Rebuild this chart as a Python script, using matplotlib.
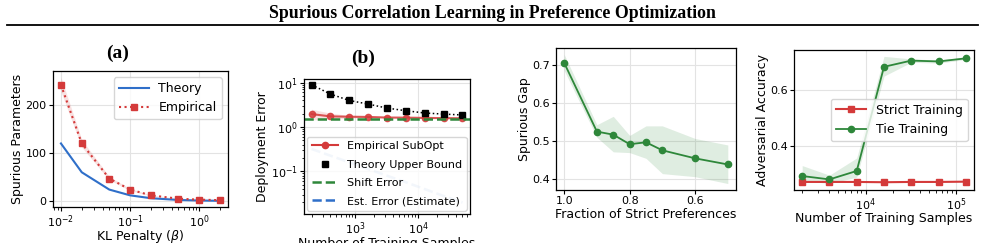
import numpy as np
import matplotlib
matplotlib.use("Agg")
import matplotlib.pyplot as plt

# panel (a): spurious parameters vs KL penalty
beta = [0.01, 0.02, 0.05, 0.1, 0.2, 0.5, 1.0, 2.0]
theory_a = [120, 60, 24, 12, 6, 2.4, 1.2, 0.6]
emp_a = [242, 120, 47, 24, 12, 5, 3, 2]
emp_a_lo = [228, 112, 44, 22, 11, 4.5, 2.7, 1.8]
emp_a_hi = [258, 128, 51, 26, 13, 5.5, 3.3, 2.2]

# panel (b): deployment error vs training samples
n_b = [200, 400, 800, 1600, 3200, 6400, 12800, 25600, 51200]
subopt_b = [1.95, 1.73, 1.70, 1.68, 1.63, 1.62, 1.60, 1.58, 1.57]
subopt_b_lo = [1.45, 1.48, 1.58, 1.62, 1.59, 1.59, 1.57, 1.55, 1.55]
subopt_b_hi = [2.50, 2.05, 1.82, 1.74, 1.67, 1.65, 1.63, 1.61, 1.59]
bound_b = [8.9, 5.5, 3.95, 3.27, 2.66, 2.32, 2.06, 1.95, 1.86]
shift_err = 1.55
est_err_b = [0.32, 0.226, 0.16, 0.113, 0.08, 0.057, 0.04, 0.028, 0.02]

# panel (c): spurious gap vs fraction of strict preferences
frac_c = [1.0, 0.9, 0.85, 0.8, 0.75, 0.7, 0.6, 0.5]
gap_c = [0.705, 0.525, 0.517, 0.492, 0.497, 0.476, 0.455, 0.439]
gap_c_lo = [0.685, 0.510, 0.472, 0.470, 0.455, 0.415, 0.407, 0.389]
gap_c_hi = [0.727, 0.543, 0.565, 0.515, 0.540, 0.540, 0.507, 0.490]

# panel (d): adversarial accuracy vs training samples
n_d = [2000, 4000, 8000, 16000, 32000, 64000, 128000]
strict_d = [0.273, 0.273, 0.273, 0.272, 0.273, 0.273, 0.274]
tie_d = [0.294, 0.282, 0.312, 0.681, 0.703, 0.700, 0.711]
tie_d_lo = [0.279, 0.267, 0.290, 0.648, 0.697, 0.694, 0.707]
tie_d_hi = [0.331, 0.297, 0.358, 0.718, 0.709, 0.705, 0.715]

BLUE = "#2f6fc9"
RED = "#d43a3a"
GREEN = "#2e873a"
GRID = "#e3e3e3"

plt.rcParams["font.family"] = "DejaVu Sans"
plt.rcParams["font.size"] = 9
plt.rcParams["mathtext.fontset"] = "dejavusans"
plt.rcParams["axes.labelpad"] = 1.0

W, H = 985, 243
fig = plt.figure(figsize=(W / 100, H / 100), dpi=100)


def px_axes(left, top, right, bottom):
    return fig.add_axes([left / W, 1 - bottom / H, (right - left) / W, (bottom - top) / H])


def style(ax):
    ax.grid(True, color=GRID, linewidth=0.8)
    ax.set_axisbelow(True)
    for s in ax.spines.values():
        s.set_color("black")
        s.set_linewidth(0.9)
    ax.tick_params(labelsize=8, length=3, width=0.8, pad=1.5)
    ax.tick_params(which="minor", length=1.8, width=0.6)


# header
fig.text(492 / W, 1 - 13 / H, "Spurious Correlation Learning in Preference Optimization",
         ha="center", va="center", family="Liberation Serif", weight="bold", fontsize=12.8)
fig.add_artist(plt.Line2D([7 / W, 978 / W], [1 - 25 / H, 1 - 25 / H], color="black", lw=1.3))
fig.text(118 / W, 1 - 53 / H, "(a)", ha="center", va="center",
         family="Liberation Serif", weight="bold", fontsize=14)
fig.text(363 / W, 1 - 58 / H, "(b)", ha="center", va="center",
         family="Liberation Serif", weight="bold", fontsize=14)

# (a)
ax = px_axes(53, 71, 228, 207)
style(ax)
ax.plot(beta, theory_a, color=BLUE, lw=1.5, label="Theory")
ax.fill_between(beta, emp_a_lo, emp_a_hi, color=RED, alpha=0.15, lw=0)
ax.plot(beta, emp_a, color=RED, ls=":", lw=1.5, marker="s", ms=5, label="Empirical")
ax.set_xscale("log")
ax.set_yticks([0, 100, 200])
ax.set_xlabel(r"KL Penalty ($\beta$)")
ax.xaxis.set_label_coords(0.5, -0.155)
ax.set_ylabel("Spurious Parameters")
ax.legend(loc="upper right", fontsize=9, handlelength=2.4)

# (b)
ax = px_axes(304, 79, 470, 214)
style(ax)
ax.fill_between(n_b, subopt_b_lo, subopt_b_hi, color=RED, alpha=0.15, lw=0)
ax.plot(n_b, subopt_b, color=RED, lw=1.5, marker="o", ms=4.5, alpha=0.85, label="Empirical SubOpt")
ax.plot(n_b, bound_b, color="black", ls=":", lw=1.1)
ax.plot(n_b, bound_b, color="black", ls="none", marker="s", ms=5, label="Theory Upper Bound")
ax.axhline(shift_err, color=GREEN, ls="--", lw=1.8, label="Shift Error")
ax.plot(n_b, est_err_b, color=BLUE, ls="--", lw=1.8, alpha=0.3, label="Est. Error (Estimate)")
ax.set_xscale("log")
ax.set_yscale("log")
ax.set_ylim(0.011, 12)
ax.set_xlabel("Number of Training Samples")
ax.xaxis.set_label_coords(0.5, -0.17)
ax.set_ylabel("Deployment Error")
leg = ax.legend(loc="lower right", fontsize=8, handlelength=2.4, borderaxespad=0.3,
                labelspacing=0.75)
for h in leg.legend_handles:
    h.set_alpha(1)

# (c)
ax = px_axes(556, 48, 736, 190)
style(ax)
ax.fill_between(frac_c, gap_c_lo, gap_c_hi, color=GREEN, alpha=0.15, lw=0)
ax.plot(frac_c, gap_c, color=GREEN, lw=1.3, marker="o", ms=4.5)
ax.invert_xaxis()
ax.set_xticks([1.0, 0.8, 0.6])
ax.set_yticks([0.4, 0.5, 0.6, 0.7])
ax.set_xlabel("Fraction of Strict Preferences")
ax.set_ylabel("Spurious Gap")

# (d)
ax = px_axes(794, 50, 974, 190)
style(ax)
ax.plot(n_d, strict_d, color=RED, lw=1.5, marker="s", ms=4.5, label="Strict Training")
ax.fill_between(n_d, tie_d_lo, tie_d_hi, color=GREEN, alpha=0.15, lw=0)
ax.plot(n_d, tie_d, color=GREEN, lw=1.3, marker="o", ms=4.5, label="Tie Training")
ax.set_xscale("log")
ax.set_yticks([0.4, 0.6])
ax.set_xlabel("Number of Training Samples")
ax.xaxis.set_label_coords(0.5, -0.155)
ax.set_ylabel("Adversarial Accuracy")
ax.legend(loc="center right", fontsize=9, handlelength=2.4)

fig.savefig("out.png", dpi=100)
